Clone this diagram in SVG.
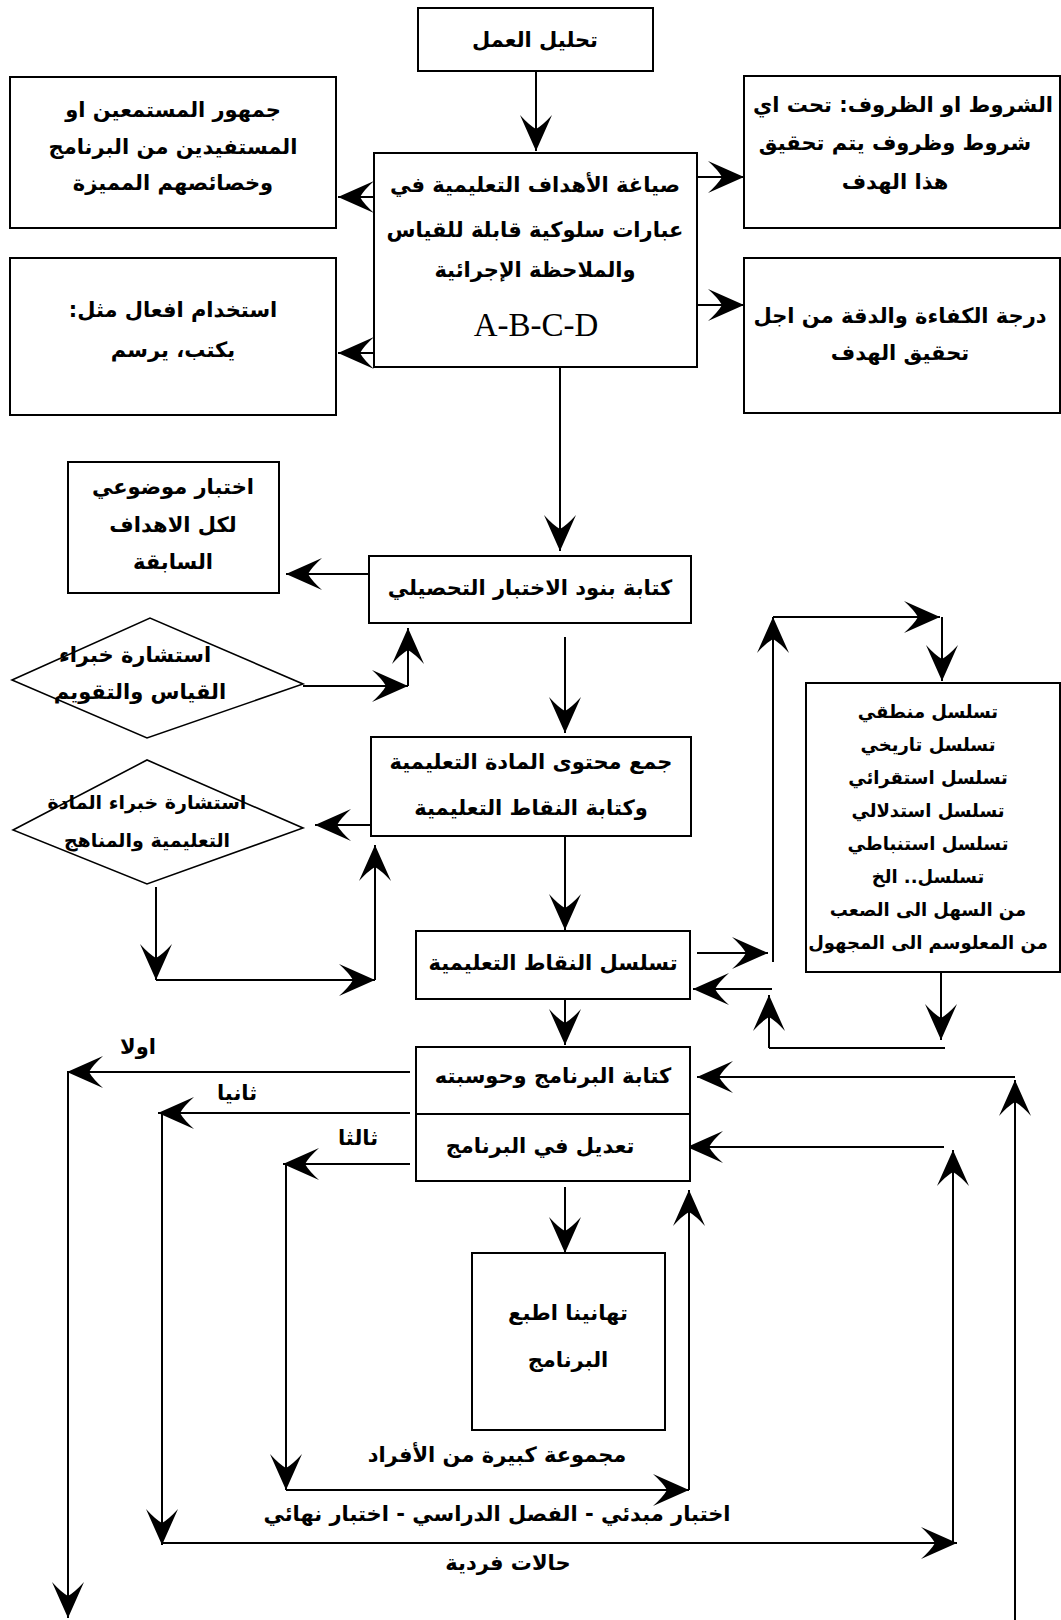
<svg xmlns="http://www.w3.org/2000/svg" width="1061" height="1620" viewBox="0 0 1061 1620">
<style>
.bx{fill:#fff;stroke:#000;stroke-width:2}
.dm{fill:#fff;stroke:#000;stroke-width:1.6}
.ln{fill:none;stroke:#000;stroke-width:2}
.ar{marker-end:url(#ah)}
text{font-family:"DejaVu Sans",sans-serif;fill:#000;text-anchor:middle;dominant-baseline:central;direction:rtl}
.t{font-size:21px;font-weight:bold}
.s{font-size:18px;font-weight:bold}
.m{font-size:19px;font-weight:bold}
.l{font-size:21px;font-weight:bold}
.lat{font-family:"Liberation Serif",serif;font-size:33px;direction:ltr}
</style>
<defs>
<marker id="ah" viewBox="0 0 36 32" refX="36" refY="16" markerWidth="36" markerHeight="32" markerUnits="userSpaceOnUse" orient="auto">
<path d="M36,16 L0,0 Q10,9 14,16 Q10,23 0,32 Z" fill="#000"/>
</marker>
</defs>
<rect width="1061" height="1620" fill="#fff"/>

<g id="connectors">
<path class="ln ar" d="M536,71 V151"/>
<path class="ln ar" d="M374,197 H338"/>
<path class="ln ar" d="M697,177 H744"/>
<path class="ln ar" d="M374,353 H338"/>
<path class="ln ar" d="M697,305 H744"/>
<path class="ln ar" d="M560,367 V551"/>
<path class="ln ar" d="M369,574 H286"/>
<path class="ln ar" d="M303,686 H408"/>
<path class="ln ar" d="M408,686 V628"/>
<path class="ln ar" d="M565,637 V733"/>
<path class="ln ar" d="M371,825 H315"/>
<path class="ln ar" d="M156,887 V980"/>
<path class="ln ar" d="M156,980 H375"/>
<path class="ln ar" d="M375,980 V845"/>
<path class="ln ar" d="M565,835 V930"/>
<path class="ln ar" d="M697,953 H768"/>
<path class="ln ar" d="M773,962 V617"/>
<path class="ln ar" d="M773,617 H940"/>
<path class="ln ar" d="M942,617 V681"/>
<path class="ln ar" d="M941,972 V1040"/>
<path class="ln" d="M945,1048 H769"/>
<path class="ln ar" d="M769,1048 V995"/>
<path class="ln ar" d="M772,989 H693"/>
<path class="ln ar" d="M565,999 V1045"/>
<path class="ln ar" d="M410,1072 H67"/>
<path class="ln ar" d="M68,1072 V1618"/>
<path class="ln ar" d="M410,1113 H158"/>
<path class="ln ar" d="M162,1113 V1545"/>
<path class="ln ar" d="M162,1543 H957"/>
<path class="ln ar" d="M953,1543 V1150"/>
<path class="ln ar" d="M944,1147 H687"/>
<path class="ln ar" d="M410,1164 H283"/>
<path class="ln ar" d="M286,1164 V1490"/>
<path class="ln ar" d="M286,1490 H689"/>
<path class="ln ar" d="M689,1490 V1190"/>
<path class="ln ar" d="M1015,1620 V1080"/>
<path class="ln ar" d="M1015,1077 H697"/>
<path class="ln ar" d="M565,1187 V1253"/>
</g>

<g id="n-tahlil"><rect class="bx" x="418" y="8" width="235" height="63"/><text class="t" x="535" y="40">تحليل العمل</text></g>
<g id="n-jumhur"><rect class="bx" x="10" y="77" width="326" height="151"/>
<text class="t" x="173" y="110">جمهور المستمعين او</text>
<text class="t" x="173" y="147">المستفيدين من البرنامج</text>
<text class="t" x="173" y="183">وخصائصهم المميزة</text></g>
<g id="n-shurut"><rect class="bx" x="744" y="76" width="316" height="152"/>
<text class="t" x="903" y="105">الشروط او الظروف: تحت اي</text>
<text class="t" x="895" y="143">شروط وظروف يتم تحقيق</text>
<text class="t" x="895" y="182">هذا الهدف</text></g>
<g id="n-siyagha"><rect class="bx" x="374" y="153" width="323" height="214"/>
<text class="t" x="535" y="185">صياغة الأهداف التعليمية في</text>
<text class="t" x="535" y="230">عبارات سلوكية قابلة للقياس</text>
<text class="t" x="535" y="270">والملاحظة الإجرائية</text>
<text class="lat" x="536" y="325">A-B-C-D</text></g>
<g id="n-istikhdam"><rect class="bx" x="10" y="258" width="326" height="157"/>
<text class="t" x="173" y="310">استخدام افعال مثل:</text>
<text class="t" x="173" y="350">يكتب، يرسم</text></g>
<g id="n-daraja"><rect class="bx" x="744" y="258" width="316" height="155"/>
<text class="t" x="900" y="316">درجة الكفاءة والدقة من اجل</text>
<text class="t" x="900" y="353">تحقيق الهدف</text></g>
<g id="n-ikhtibar"><rect class="bx" x="68" y="462" width="211" height="131"/>
<text class="t" x="173" y="487">اختبار موضوعي</text>
<text class="t" x="173" y="525">لكل الاهداف</text>
<text class="t" x="173" y="562">السابقة</text></g>
<g id="n-kitaba"><rect class="bx" x="369" y="556" width="322" height="67"/>
<text class="t" x="530" y="588">كتابة بنود الاختبار التحصيلي</text></g>
<g id="n-d1"><polygon class="dm" points="12,680 150,618 303,684 147,738"/>
<text class="t" x="135" y="655">استشارة خبراء</text>
<text class="t" x="140" y="692">القياس والتقويم</text></g>
<g id="n-jam"><rect class="bx" x="371" y="737" width="320" height="99"/>
<text class="t" x="531" y="762">جمع محتوى المادة التعليمية</text>
<text class="t" x="531" y="808">وكتابة النقاط التعليمية</text></g>
<g id="n-d2"><polygon class="dm" points="13,830 147,760 303,828 147,884"/>
<text class="m" x="147" y="802">استشارة خبراء المادة</text>
<text class="m" x="147" y="840">التعليمية والمناهج</text></g>
<g id="n-tasalsul"><rect class="bx" x="416" y="931" width="274" height="68"/>
<text class="t" x="553" y="963">تسلسل النقاط التعليمية</text></g>
<g id="n-list"><rect class="bx" x="806" y="683" width="254" height="289"/>
<text class="s" x="928" y="711">تسلسل منطقي</text>
<text class="s" x="928" y="744">تسلسل تاريخي</text>
<text class="s" x="928" y="777">تسلسل استقرائي</text>
<text class="s" x="928" y="810">تسلسل استدلالي</text>
<text class="s" x="928" y="843">تسلسل استنباطي</text>
<text class="s" x="928" y="876">تسلسل.. الخ</text>
<text class="s" x="928" y="909">من السهل الى الصعب</text>
<text class="s" x="928" y="942">من المعلوسم الى المجهول</text></g>
<g id="n-barnamaj"><rect class="bx" x="416" y="1047" width="274" height="67"/>
<text class="t" x="553" y="1076">كتابة البرنامج وحوسبته</text></g>
<g id="n-taadil"><rect class="bx" x="416" y="1114" width="274" height="67"/>
<text class="t" x="540" y="1146">تعديل في البرنامج</text></g>
<g id="n-tahanina"><rect class="bx" x="472" y="1253" width="193" height="177"/>
<text class="t" x="568" y="1313">تهانينا اطبع</text>
<text class="t" x="568" y="1360">البرنامج</text></g>

<g id="labels">
<text class="l" x="138" y="1047">اولا</text>
<text class="l" x="237" y="1093">ثانيا</text>
<text class="l" x="358" y="1138">ثالثا</text>
<text class="l" x="497" y="1455">مجموعة كبيرة من الأفراد</text>
<text class="l" x="497" y="1514">اختبار مبدئي - الفصل الدراسي - اختبار نهائي</text>
<text class="l" x="508" y="1563">حالات فردية</text>
</g>
</svg>
